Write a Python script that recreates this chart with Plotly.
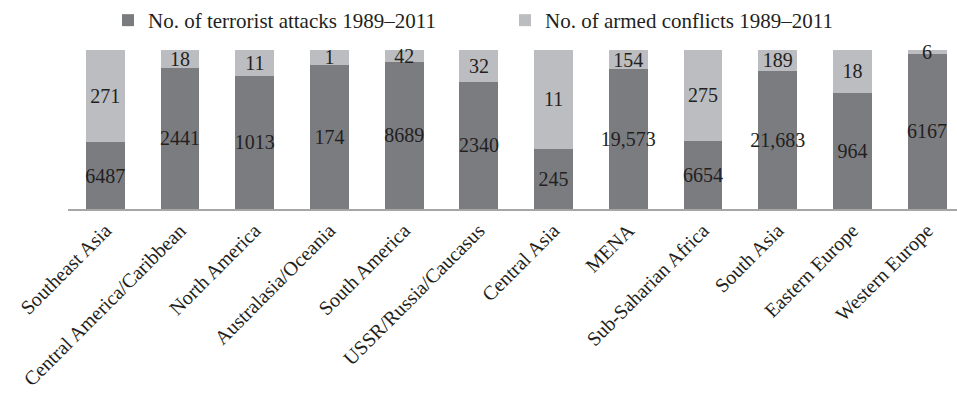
import plotly.graph_objects as go

regions = ["Southeast Asia", "Central America/Caribbean", "North America",
           "Australasia/Oceania", "South America", "USSR/Russia/Caucasus",
           "Central Asia", "MENA", "Sub-Saharian Africa", "South Asia",
           "Eastern Europe", "Western Europe"]

# counts printed on the segments
attack_labels = ["6487", "2441", "1013", "174", "8689", "2340", "245",
                 "19,573", "6654", "21,683", "964", "6167"]
conflict_labels = ["271", "18", "11", "1", "42", "32", "11", "154", "275",
                   "189", "18", "6"]

# share (%) of each bar taken by terrorist attacks; the rest is armed conflicts
attack_share = [42.1, 88.7, 83.8, 90.8, 92.5, 79.9, 37.9, 88.0, 43.0, 86.8,
                73.1, 97.5]
conflict_share = [100 - s for s in attack_share]

DARK = "#7b7c80"
LIGHT = "#bcbdc0"
FONT = "Liberation Serif"
TXT = "#231f20"

fig = go.Figure()
fig.add_bar(x=regions, y=attack_share, name="No. of terrorist attacks 1989–2011",
            marker=dict(color=DARK, line=dict(width=0)),
            text=attack_labels, textposition="inside", insidetextanchor="middle",
            textangle=0, constraintext="none", cliponaxis=False,
            insidetextfont=dict(family=FONT, size=20, color=TXT))
fig.add_bar(x=regions, y=conflict_share, name="No. of armed conflicts 1989–2011",
            marker=dict(color=LIGHT, line=dict(width=0)),
            text=conflict_labels, textposition="inside", insidetextanchor="middle",
            textangle=0, constraintext="none", cliponaxis=False,
            insidetextfont=dict(family=FONT, size=20, color=TXT))

fig.update_layout(
    width=957, height=406,
    barmode="stack", bargap=0.48,
    margin=dict(l=68, r=0, t=50, b=197),
    plot_bgcolor="white", paper_bgcolor="white",
    font=dict(family=FONT, size=20, color=TXT),
    showlegend=True,
    legend=dict(orientation="h", traceorder="normal",
                xref="container", yref="container",
                x=108 / 957, y=1.0, xanchor="left", yanchor="top",
                entrywidth=352, font=dict(family=FONT, size=21, color=TXT),
                bgcolor="rgba(0,0,0,0)"),
    xaxis=dict(range=[-0.5, 11.4], tickangle=-45, showline=True,
               linecolor="#a6a6a6", linewidth=2, ticks="", showgrid=False,
               tickfont=dict(family=FONT, size=20, color=TXT)),
    yaxis=dict(range=[0, 100], visible=False, showgrid=False),
)

fig.write_html("out.html")
